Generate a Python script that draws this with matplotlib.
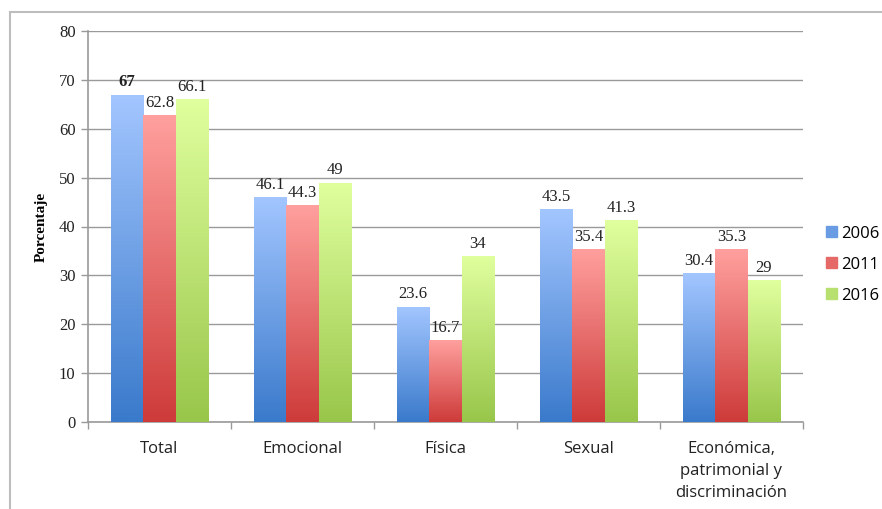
import numpy as np
import matplotlib.pyplot as plt
from matplotlib.colors import LinearSegmentedColormap
from matplotlib.patches import Rectangle

categories = ["Total", "Emocional", "Física", "Sexual",
              "Económica,\npatrimonial y\ndiscriminación"]
years = ["2006", "2011", "2016"]
v2006 = [67, 46.1, 23.6, 43.5, 30.4]
v2011 = [62.8, 44.3, 16.7, 35.4, 35.3]
v2016 = [66.1, 49, 34, 41.3, 29]

# (top, bottom) colours of each series gradient
gradients = [("#a3c6ff", "#3a7acb"),
             ("#ffa09e", "#cd3b3a"),
             ("#e0ff9e", "#98c64a")]

serif = "Liberation Serif"
sans = "Open Sans"

fig = plt.figure(figsize=(8.82, 5.09), dpi=100)
W, H = 882, 509
ax = fig.add_axes([88 / W, 1 - 422 / H, (803 - 88) / W, (422 - 31) / H])

# outer frame of the chart area
fig.patches.append(Rectangle((10 / W, -0.1), 1.2, 1 - 12 / H + 0.1,
                             transform=fig.transFigure, fill=False,
                             edgecolor="#bdbdbd", linewidth=1.5))

x = np.arange(len(categories))
width = 0.227
series = [v2006, v2011, v2016]
grad = np.linspace(1, 0, 256).reshape(-1, 1)

for i, (vals, (top, bot)) in enumerate(zip(series, gradients)):
    cmap = LinearSegmentedColormap.from_list(f"g{i}", [bot, top])
    pos = x + (i - 1) * width
    bars = ax.bar(pos, vals, width, color="none", edgecolor="none", zorder=3)
    for j, (b, v) in enumerate(zip(bars, vals)):
        x0, w = b.get_x(), b.get_width()
        im = ax.imshow(grad, cmap=cmap, aspect="auto", origin="upper",
                       extent=[x0, x0 + w, 0, v], zorder=3, vmin=0, vmax=1)
        im.set_clip_path(b)
        ax.annotate(f"{v:g}", (x0 + w / 2, v), xytext=(0, 3),
                    textcoords="offset points", ha="center", va="bottom",
                    fontsize=12, family=serif, color="#222222",
                    fontweight="bold" if (i == 0 and j == 0) else "normal",
                    zorder=4)

# legend built from proxy patches
handles = []
for top, bot in gradients:
    cm = LinearSegmentedColormap.from_list("l", [bot, top])
    handles.append(Rectangle((0, 0), 1, 1, color=cm(0.45)))
fig.legend(handles, years, loc="upper left",
           bbox_to_anchor=(819 / W, 1 - 219 / H),
           frameon=False, handlelength=0.65, handleheight=0.65,
           handletextpad=0.3, labelspacing=0.9, borderaxespad=0,
           prop={"family": sans, "size": 12})

ax.set_xlim(-0.5, len(categories) - 0.5)
ax.set_ylim(0, 80)
ax.set_yticks(range(0, 81, 10))
ax.set_xticks(x)
ax.set_xticklabels(categories, family=sans, fontsize=12, color="#222222",
                   linespacing=1.5)
ax.set_xticks(np.arange(-0.5, len(categories), 1), minor=True)
ax.tick_params(axis="x", which="major", length=0, pad=14)
ax.tick_params(axis="x", which="minor", length=5, color="#999999", width=1)
ax.tick_params(axis="y", length=5, color="#999999", width=1, pad=4)
for t in ax.get_yticklabels():
    t.set_family(serif)
    t.set_fontsize(12)
    t.set_color("#222222")

ax.grid(axis="y", color="#9a9a9a", linewidth=1, zorder=0)
ax.set_axisbelow(True)
for s in ["top", "right"]:
    ax.spines[s].set_visible(False)
for s in ["left", "bottom"]:
    ax.spines[s].set_color("#9a9a9a")
    ax.spines[s].set_linewidth(1.2)

ax.set_ylabel("Porcentaje", family=serif, fontweight="bold", fontsize=11,
              labelpad=8)

fig.savefig("out.png", dpi=100)
